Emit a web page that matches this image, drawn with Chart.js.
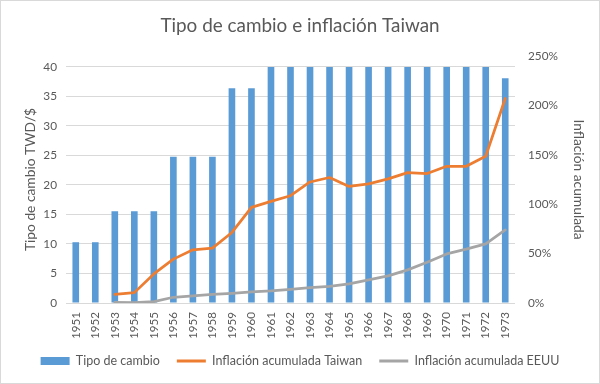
<!DOCTYPE html>
<html><head><meta charset="utf-8">
<script src="https://cdn.jsdelivr.net/npm/chart.js@4"></script>
<style>html,body{margin:0;padding:0;background:#fff}#wrap{width:600px;height:384px;position:relative}</style>
</head><body><div id="wrap"><canvas id="c" width="600" height="384"></canvas></div>
<script>
const years = ['1951','1952','1953','1954','1955','1956','1957','1958','1959','1960','1961','1962','1963','1964','1965','1966','1967','1968','1969','1970','1971','1972','1973'];
const tipoCambio = [10.3,10.3,15.55,15.55,15.55,24.78,24.78,24.78,36.38,36.38,40,40,40,40,40,40,40,40,40,40,40,40,38.1];
const inflTaiwan = [null,null,8.8,10.5,29.4,44.4,53.8,55.5,71.4,96.8,102.8,108.6,122.5,127,118,120.5,125.6,132,131,138.4,138.4,148.5,207];
const inflEEUU = [null,null,0.7,0.4,1.4,5.8,7.1,8.8,9.8,11.2,12.2,13.9,15.5,16.8,19.3,23.4,27.4,33.5,41.3,49.7,54.5,59.9,74];
const leftTicks = [0,5,10,15,20,25,30,35,40];
const rightTicks = [0,50,100,150,200,250];

const FONT = 'Lato';
const TXT = '#595959';

// font sizes fitted to the text widths of the reference
const mctx = document.createElement('canvas').getContext('2d');
function fit(text, target) {
  mctx.font = '100px ' + FONT;
  return Math.round(1000 * target / mctx.measureText(text).width) / 10;
}
const titleSize = fit('Tipo de cambio e inflación Taiwan', 279);
const legendSize = fit('Tipo de cambioInflación acumulada Taiwan', 234);
const tickSize = fit('250%', 30);
const xTickSize = fit('1951', 27);
const axisTitleSize = fit('Inflación acumulada', 120);
const legendPad = 17;

const borderPlugin = {
  id: 'border',
  afterDraw(chart) {
    const c = chart.ctx;
    c.save();
    c.strokeStyle = '#D9D9D9';
    c.lineWidth = 1;
    c.strokeRect(0.5, 0.5, chart.width - 1, chart.height - 1);
    c.restore();
  }
};

const titlePadTop = 15;
new Chart(document.getElementById('c'), {
  data: {
    labels: years,
    datasets: [
      { type: 'bar', label: 'Tipo de cambio', data: tipoCambio, yAxisID: 'y',
        backgroundColor: '#5B9BD5', borderWidth: 0, order: 3,
        categoryPercentage: 1, barPercentage: 0.34 },
      { type: 'line', label: 'Inflación acumulada Taiwan', data: inflTaiwan, yAxisID: 'y1',
        borderColor: '#ED7D31', backgroundColor: '#ED7D31', borderWidth: 2.75, pointRadius: 0,
        tension: 0, order: 1, borderCapStyle: 'round', borderJoinStyle: 'round' },
      { type: 'line', label: 'Inflación acumulada EEUU', data: inflEEUU, yAxisID: 'y1',
        borderColor: '#A5A5A5', backgroundColor: '#A5A5A5', borderWidth: 2.75, pointRadius: 0,
        tension: 0, order: 2, borderCapStyle: 'round', borderJoinStyle: 'round' }
    ]
  },
  options: {
    responsive: false,
    animation: false,
    layout: { padding: { left: 0, right: 0, top: 0, bottom: 13 - legendSize / 2 } },
    plugins: {
      tooltip: { enabled: false },
      title: { display: true, text: 'Tipo de cambio e inflación Taiwan', color: TXT,
        font: { family: FONT, size: titleSize, weight: 'normal', lineHeight: 1.2 },
        padding: { top: titlePadTop, bottom: 56 - titlePadTop - 1.2 * titleSize } },
      legend: {
        position: 'bottom', align: 'center',
        labels: {
          color: TXT, font: { family: FONT, size: legendSize },
          usePointStyle: true, pointStyleWidth: 29, boxHeight: 8, padding: legendPad,
          sort: (a, b) => a.datasetIndex - b.datasetIndex,
          generateLabels(chart) {
            return chart.data.datasets.map((ds, i) => ({
              text: ds.label, datasetIndex: i,
              fillStyle: ds.backgroundColor, strokeStyle: ds.type === 'bar' ? ds.backgroundColor : ds.borderColor,
              lineWidth: ds.type === 'bar' ? 0 : 3,
              pointStyle: ds.type === 'bar' ? 'rect' : 'line',
              fontColor: TXT, hidden: false
            }));
          }
        }
      }
    },
    scales: {
      x: {
        grid: { display: false, drawTicks: false },
        border: { display: false },
        ticks: { color: TXT, font: { family: FONT, size: xTickSize }, minRotation: 90, maxRotation: 90, autoSkip: false, padding: 9 },
        afterFit(s) { s.height = 361 - legendPad - legendSize / 2 - 303; }
      },
      y: {
        position: 'left', min: 0, max: 41.86,
        afterBuildTicks(s) { s.ticks = leftTicks.map(v => ({ value: v })); },
        grid: { color: '#D9D9D9', drawTicks: false },
        border: { display: false },
        ticks: { color: TXT, font: { family: FONT, size: tickSize }, padding: 9 },
        title: { display: true, text: 'Tipo de cambio TWD/$', color: TXT,
          font: { family: FONT, size: axisTitleSize, lineHeight: 1.2 }, padding: { top: 31 - 0.6 * axisTitleSize, bottom: 0 } },
        afterFit(s) { s.width = 66; }
      },
      y1: {
        position: 'right', min: 0, max: 250,
        afterBuildTicks(s) { s.ticks = rightTicks.map(v => ({ value: v })); },
        grid: { display: false, drawTicks: false },
        border: { display: false },
        ticks: { color: TXT, font: { family: FONT, size: tickSize }, padding: 13, callback: v => v + '%' },
        title: { display: true, text: 'Inflación acumulada', color: TXT,
          font: { family: FONT, size: axisTitleSize, lineHeight: 1.2 }, padding: { top: 21.5 - 0.6 * axisTitleSize, bottom: 0 } },
        afterFit(s) { s.width = 85; }
      }
    }
  },
  plugins: [borderPlugin]
});
</script>
</body></html>
